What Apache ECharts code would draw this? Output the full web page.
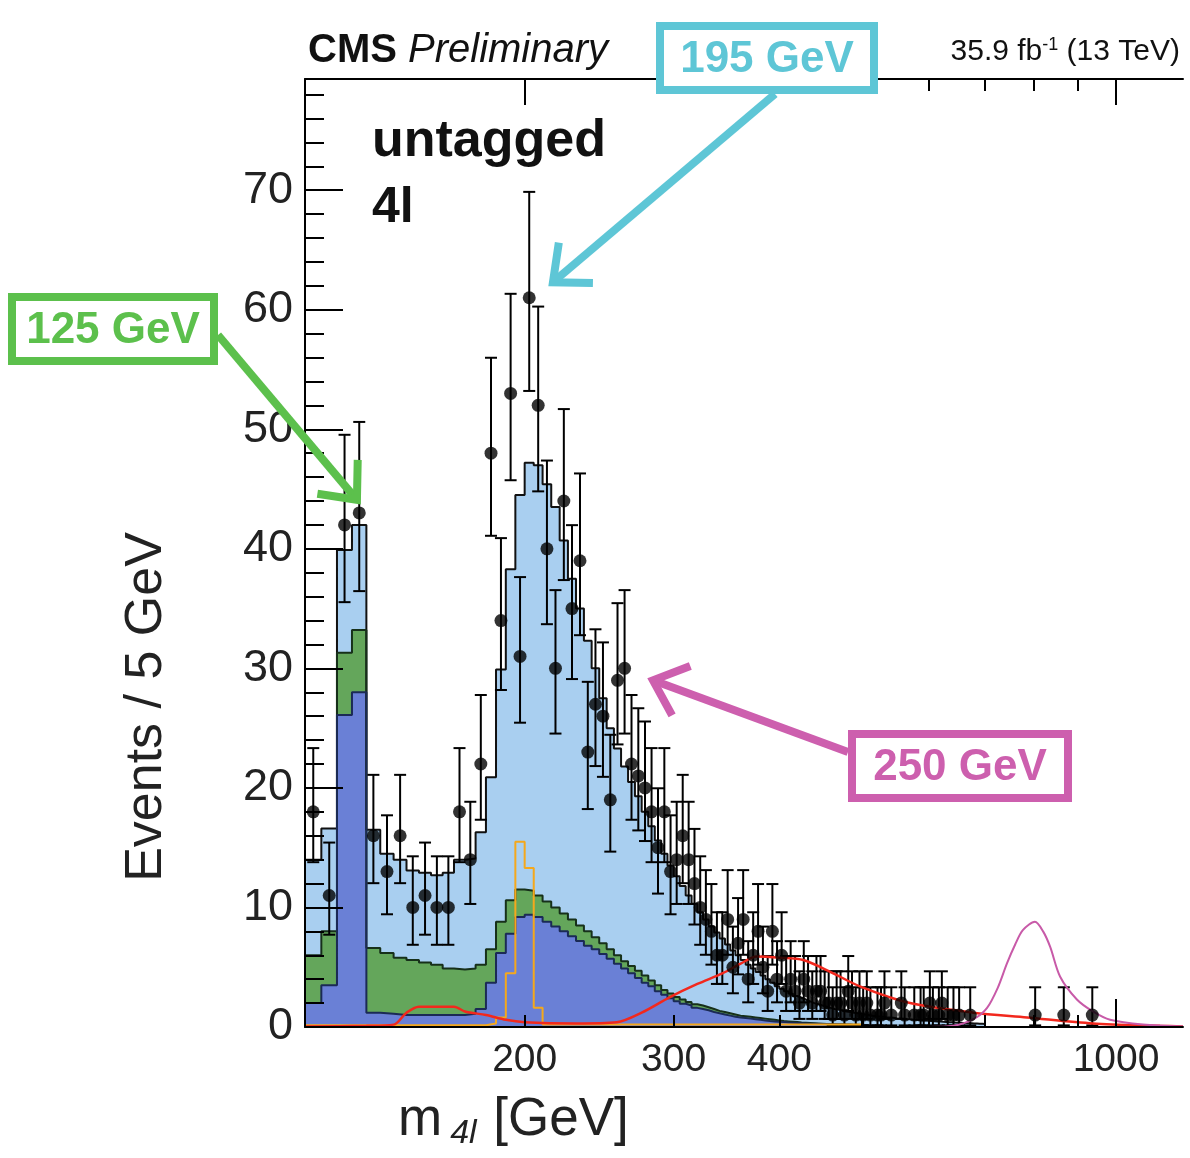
<!DOCTYPE html>
<html>
<head>
<meta charset="utf-8">
<title>CMS untagged 4l</title>
<script src="https://cdn.jsdelivr.net/npm/echarts@6/dist/echarts.min.js"></script>
<style>
  html, body { margin: 0; padding: 0; background: #fff; }
  #chart { width: 1190px; height: 1158px; }
</style>
</head>
<body>
<div id="chart"></div>
<script>
// 5 GeV bins, lower edge of the first bin
var binStart = 110
var binWidth = 5

// observed events per bin, 110 - 700 GeV
var dataEvents = [
  18, 11, 42, 43, 16, 13, 16, 10, 11, 10,
  10, 18, 14, 22, 48, 34, 53, 31, 61, 52,
  40, 30, 44, 35, 39, 23, 27, 26, 19, 29,
  30, 22, 21, 20, 18, 15, 18, 13, 14, 16,
  14, 12, 10, 9, 8, 6, 6, 9, 5, 7,
  9, 4, 6, 8, 5, 3, 8, 4, 6, 3,
  4, 3, 2, 4, 3, 2, 3, 3, 2, 2,
  1, 2, 2, 1, 3, 2, 1, 2, 1, 2,
  1, 0, 1, 1, 2, 0, 1, 0, 0, 2,
  1, 0, 0, 1, 0, 1, 1, 0, 2, 1,
  0, 1, 2, 0, 1, 0, 1, 0, 1, 0,
  0, 0, 1, 0, 0, 0, 0, 0
]
// isolated events above 700 GeV (bin centres)
var dataHighMass = [802.5, 867.5, 937.5]
var dataHighEvents = [1, 1, 1]

// background stack, heights of the top of each layer per bin
var bkgTotal = [
  14.0, 16.6, 39.9, 42.0, 16.5, 14.5, 14.0, 13.1, 12.9, 12.7,
  12.9, 14.0, 14.1, 16.3, 20.9, 29.9, 38.3, 44.5, 47.2, 47.0,
  45.4, 43.5, 40.7, 37.5, 35.0, 32.3, 30.0, 27.5, 25.0, 23.3,
  21.8, 20.5, 19.3, 18.0, 16.8, 15.6, 14.5, 13.5, 12.6, 11.8,
  11.0, 10.3, 9.6, 9.0, 8.4, 7.9, 7.4, 6.9, 6.4, 6.0,
  5.6, 5.2, 4.9, 4.6, 4.3, 4.0, 3.7, 3.4, 3.2, 3.0,
  2.8, 2.6, 2.45, 2.3, 2.15, 2.0, 1.9, 1.8, 1.7, 1.6,
  1.5, 1.45, 1.4, 1.3, 1.25, 1.2, 1.15, 1.1, 1.05, 1.0,
  0.95, 0.9, 0.88, 0.85, 0.82, 0.8, 0.77, 0.74, 0.72, 0.7,
  0.67, 0.65, 0.62, 0.6, 0.58, 0.56, 0.54, 0.52, 0.5, 0.48,
  0.46, 0.45, 0.43, 0.42, 0.4, 0.39, 0.37, 0.36, 0.35, 0.34,
  0.33, 0.32, 0.31, 0.3, 0.29, 0.28, 0.27, 0.26
]
var bkgGreen = [
  6.0, 8.0, 31.3, 33.2, 6.6, 6.2, 5.8, 5.6, 5.4, 5.2,
  4.9, 4.8, 4.9, 5.2, 6.5, 8.8, 10.6, 11.5, 11.4, 11.0,
  10.5, 10.0, 9.5, 9.0, 8.5, 8.0, 7.5, 7.0, 6.5, 6.0,
  5.5, 5.1, 4.7, 4.3, 3.9, 3.5, 3.1, 2.8, 2.5, 2.3,
  2.1, 1.9, 1.8, 1.65, 1.5, 1.35, 1.25, 1.15, 1.05, 0.95,
  0.9, 0.85, 0.8, 0.75, 0.7, 0.65, 0.6, 0.55, 0.5, 0.47,
  0.44, 0.41, 0.38, 0.36, 0.34, 0.32, 0.3, 0.28, 0.26, 0.25,
  0.24, 0.23, 0.22, 0.21, 0.2, 0.19, 0.18, 0.17, 0.16, 0.15
]
var bkgDark = [
  2.0, 3.5, 26.1, 28.0, 1.2, 1.1, 1.0, 1.0, 1.0, 1.0,
  1.0, 1.0, 1.1, 1.5, 3.7, 6.2, 7.8, 9.2, 9.4, 9.2,
  8.8, 8.4, 8.0, 7.6, 7.2, 6.8, 6.5, 6.1, 5.7, 5.3,
  4.9, 4.5, 4.1, 3.7, 3.4, 3.0, 2.7, 2.4, 2.15, 1.95,
  1.8, 1.6, 1.5, 1.4, 1.25, 1.15, 1.05, 0.95, 0.85, 0.8,
  0.75, 0.7, 0.65, 0.6, 0.55, 0.5, 0.47, 0.44, 0.41, 0.38,
  0.36, 0.34, 0.32, 0.3, 0.28, 0.27, 0.26, 0.25, 0.24, 0.23,
  0.22, 0.21, 0.2, 0.19, 0.18, 0.17, 0.16, 0.15, 0.14, 0.13
]

// signal hypotheses
var sig195Edges = [110, 180, 185, 190, 195, 200, 205, 210, 500]
var sig195Values = [0.15, 0.3, 0.8, 4.5, 15.5, 13.3, 1.6, 0.2, 0.2]
var sig400Mass = [110, 130, 140, 145, 150, 165, 170, 180, 190, 200, 230, 257, 275, 297, 320, 343, 360, 376, 401, 427, 460, 498, 571, 678, 785, 939, 1127, 1200]
var sig400Values = [0.05, 0.1, 0.2, 1.2, 1.7, 1.7, 1.3, 1.0, 0.6, 0.4, 0.3, 0.4, 1.2, 2.5, 3.6, 4.5, 5.3, 5.9, 5.8, 5.6, 4.6, 3.4, 2.0, 1.2, 0.8, 0.3, 0.1, 0.05]
var sig800Mass = [600, 642, 680, 704, 725, 743, 760, 776, 802, 820, 836, 859, 899, 939, 984, 1076, 1200]
var sig800Values = [0, 0.1, 0.7, 1.6, 3.3, 5.3, 6.9, 8.1, 8.8, 8.0, 6.7, 4.2, 2.3, 1.3, 0.6, 0.2, 0.05]

var xLabelValues = [200, 300, 400, 1000]
var xMinorTicks = [200, 300, 400, 500, 600, 700, 800, 900]
var yLabelValues = [0, 10, 20, 30, 40, 50, 60, 70]
var yMinorTicks = [2, 4, 6, 8, 12, 14, 16, 18, 22, 24, 26, 28, 32, 34, 36, 38, 42, 44, 46, 48, 52, 54, 56, 58, 62, 64, 66, 68, 72, 74, 76, 78]

var FONT = 'Liberation Sans, Arial, Helvetica, sans-serif'

function stepData (values) {
  var pts = []
  for (var i = 0; i < values.length; i++) {
    pts.push([binStart + binWidth * i, values[i]])
  }
  pts.push([binStart + binWidth * values.length, values[values.length - 1]])
  return pts
}

function pairs (xs, ys) {
  return xs.map(function (x, i) { return [x, ys[i]] })
}

// Poisson (Garwood-like) interval for the data error bars
function poissonLow (n) { return n - Math.sqrt(n - 0.25) }
function poissonHigh (n) { return n + 1 + Math.sqrt(n + 0.75) }

var points = []
dataEvents.forEach(function (n, i) {
  if (n > 0) points.push([binStart + binWidth * (i + 0.5), n])
})
dataHighMass.forEach(function (m, i) { points.push([m, dataHighEvents[i]]) })
var errorBars = points.map(function (p) {
  return [p[0], p[1], poissonLow(p[1]), poissonHigh(p[1])]
})

function histSeries (name, values, fill, stroke) {
  return {
    name: name,
    type: 'line',
    step: 'end',
    data: stepData(values),
    symbol: 'none',
    silent: true,
    z: 1,
    lineStyle: {color: stroke, width: 2},
    areaStyle: {color: fill, opacity: 1}
  }
}

function logAxis (position, ticks, len, showLine, showLabel) {
  return {
    type: 'log',
    logBase: 10,
    min: 110,
    max: 1200,
    position: position,
    z: 10,
    axisLine: {show: showLine, lineStyle: {color: '#000', width: 2}},
    axisTick: {show: true, inside: true, length: len, customValues: ticks, lineStyle: {color: '#000', width: 2}},
    minorTick: {show: false},
    splitLine: {show: false},
    axisLabel: {
      show: showLabel,
      customValues: xLabelValues,
      fontFamily: FONT,
      fontSize: 39,
      color: '#222',
      margin: 14,
      formatter: function (v) { return String(Math.round(v)) }
    }
  }
}

var chart = echarts.init(document.getElementById('chart'))

var option = {
  animation: false,
  backgroundColor: '#fff',
  grid: {left: 305, right: 7, top: 79, bottom: 131, show: false},
  xAxis: [
    logAxis('bottom', xMinorTicks, 12, true, true),
    logAxis('bottom', [1000], 28, false, false),
    logAxis('top', xMinorTicks, 12, true, false),
    logAxis('top', [200, 1000], 26, false, false)
  ],
  yAxis: [
    {
      type: 'value',
      min: 0,
      max: 79.3,
      z: 10,
      axisLine: {show: true, lineStyle: {color: '#000', width: 2}},
      axisTick: {inside: true, length: 38, customValues: yLabelValues, lineStyle: {color: '#000', width: 2}},
      axisLabel: {customValues: yLabelValues, fontFamily: FONT, fontSize: 45, color: '#222', margin: 12},
      splitLine: {show: false}
    },
    {
      type: 'value',
      min: 0,
      max: 79.3,
      position: 'left',
      z: 10,
      axisLine: {show: false},
      axisTick: {inside: true, length: 19, customValues: yMinorTicks, lineStyle: {color: '#000', width: 2}},
      axisLabel: {show: false},
      splitLine: {show: false}
    }
  ],
  series: [
    histSeries('Total background', bkgTotal, '#a9cff0', '#111'),
    histSeries('Green background', bkgGreen, '#64a65b', '#17301a'),
    histSeries('Dark background', bkgDark, '#6a80d6', '#1b2a55'),
    {
      name: 'Data error bars',
      type: 'custom',
      z: 2,
      silent: true,
      encode: {x: 0, y: [1, 2, 3]},
      data: errorBars,
      renderItem: function (params, api) {
        var m = api.value(0)
        var top = api.coord([m, api.value(3)])
        var bot = api.coord([m, api.value(2)])
        var cap = 6
        var st = {stroke: '#000', lineWidth: 2}
        return {
          type: 'group',
          children: [
            {type: 'line', shape: {x1: top[0], y1: top[1], x2: bot[0], y2: bot[1]}, style: st},
            {type: 'line', shape: {x1: top[0] - cap, y1: top[1], x2: top[0] + cap, y2: top[1]}, style: st},
            {type: 'line', shape: {x1: bot[0] - cap, y1: bot[1], x2: bot[0] + cap, y2: bot[1]}, style: st}
          ]
        }
      }
    },
    {
      name: '195 GeV signal',
      type: 'line',
      step: 'end',
      z: 3,
      symbol: 'none',
      data: pairs(sig195Edges, sig195Values),
      lineStyle: {color: '#f5a81c', width: 2}
    },
    {
      name: 'Wide signal',
      type: 'line',
      z: 3,
      symbol: 'none',
      smooth: 0.3,
      data: pairs(sig400Mass, sig400Values),
      lineStyle: {color: '#f2281d', width: 2.5}
    },
    {
      name: 'High mass signal',
      type: 'line',
      z: 3,
      symbol: 'none',
      smooth: 0.3,
      data: pairs(sig800Mass, sig800Values),
      lineStyle: {color: '#c85aa8', width: 2}
    },
    {
      name: 'Data',
      type: 'scatter',
      z: 4,
      symbol: 'circle',
      symbolSize: 13,
      itemStyle: {color: '#000'},
      data: points
    }
  ]
}

chart.setOption(option)

// annotations: boxes with labels and arrows pointing into the plot
function arrowHead (tip, tail, len, ang) {
  var dx = tail[0] - tip[0]
  var dy = tail[1] - tip[1]
  var d = Math.sqrt(dx * dx + dy * dy)
  dx /= d; dy /= d
  var c = Math.cos(ang)
  var s = Math.sin(ang)
  return [
    [tip[0] + len * (dx * c - dy * s), tip[1] + len * (dx * s + dy * c)],
    tip,
    [tip[0] + len * (dx * c + dy * s), tip[1] + len * (-dx * s + dy * c)]
  ]
}

function annotation (label, color, box, tail, target) {
  var tip = chart.convertToPixel({xAxisIndex: 0, yAxisIndex: 0}, target)
  return [
    {type: 'polyline', z: 100, shape: {points: [tail, tip]}, style: {stroke: color, lineWidth: 8, fill: null}},
    {type: 'polyline', z: 100, shape: {points: arrowHead(tip, tail, 40, 0.72)}, style: {stroke: color, lineWidth: 8, fill: null, lineJoin: 'miter'}},
    {type: 'rect', z: 101, shape: {x: box[0], y: box[1], width: box[2], height: box[3]}, style: {fill: '#fff', stroke: color, lineWidth: 8}},
    {type: 'text', z: 102, x: box[0] + box[2] / 2, y: box[1] + box[3] / 2 + 2,
      style: {text: label, font: 'bold 44px ' + FONT, fill: color, align: 'center', verticalAlign: 'middle'}}
  ]
}

var graphics = []
  .concat(annotation('125 GeV', '#5cc04c', [12, 297, 202, 64], [218, 335], [126.7, 44.1]))
  .concat(annotation('195 GeV', '#5ec6d6', [660, 26, 214, 64], [775, 94], [216, 62.3]))
  .concat(annotation('250 GeV', '#cd5fae', [852, 734, 216, 64], [848, 752], [283.6, 29.0]))
  .concat([
    {type: 'text', z: 90, x: 308, y: 51,
      style: {text: '{b|CMS }{i|Preliminary}', verticalAlign: 'middle', fill: '#111',
        rich: {b: {font: 'bold 40px ' + FONT, fill: '#111'}, i: {font: 'italic 40px ' + FONT, fill: '#111'}}}},
    {type: 'text', z: 90, x: 1180, y: 52,
      style: {text: '{a|35.9 fb}{s|-1}{a| (13 TeV)}', align: 'right', verticalAlign: 'middle',
        rich: {a: {font: '30px ' + FONT, fill: '#111'}, s: {font: '18px ' + FONT, fill: '#111', padding: [0, 0, 14, 0]}}}},
    {type: 'text', z: 90, x: 372, y: 142,
      style: {text: 'untagged', font: 'bold 52px ' + FONT, fill: '#111', verticalAlign: 'middle'}},
    {type: 'text', z: 90, x: 372, y: 208,
      style: {text: '4l', font: 'bold 50px ' + FONT, fill: '#111', verticalAlign: 'middle'}},
    {type: 'text', z: 90, x: 147, y: 707, rotation: Math.PI / 2,
      style: {text: 'Events / 5 GeV', font: '52px ' + FONT, fill: '#222', align: 'center', verticalAlign: 'middle'}},
    {type: 'text', z: 90, x: 398, y: 1120,
      style: {text: '{m|m}{s|4l}{n| [GeV]}', verticalAlign: 'middle',
        rich: {m: {font: '53px ' + FONT, fill: '#222'}, s: {font: 'italic 34px ' + FONT, fill: '#222', padding: [28, 2, 0, 8]}, n: {font: '53px ' + FONT, fill: '#222'}}}}
  ])

chart.setOption({graphic: graphics})
</script>
</body>
</html>
